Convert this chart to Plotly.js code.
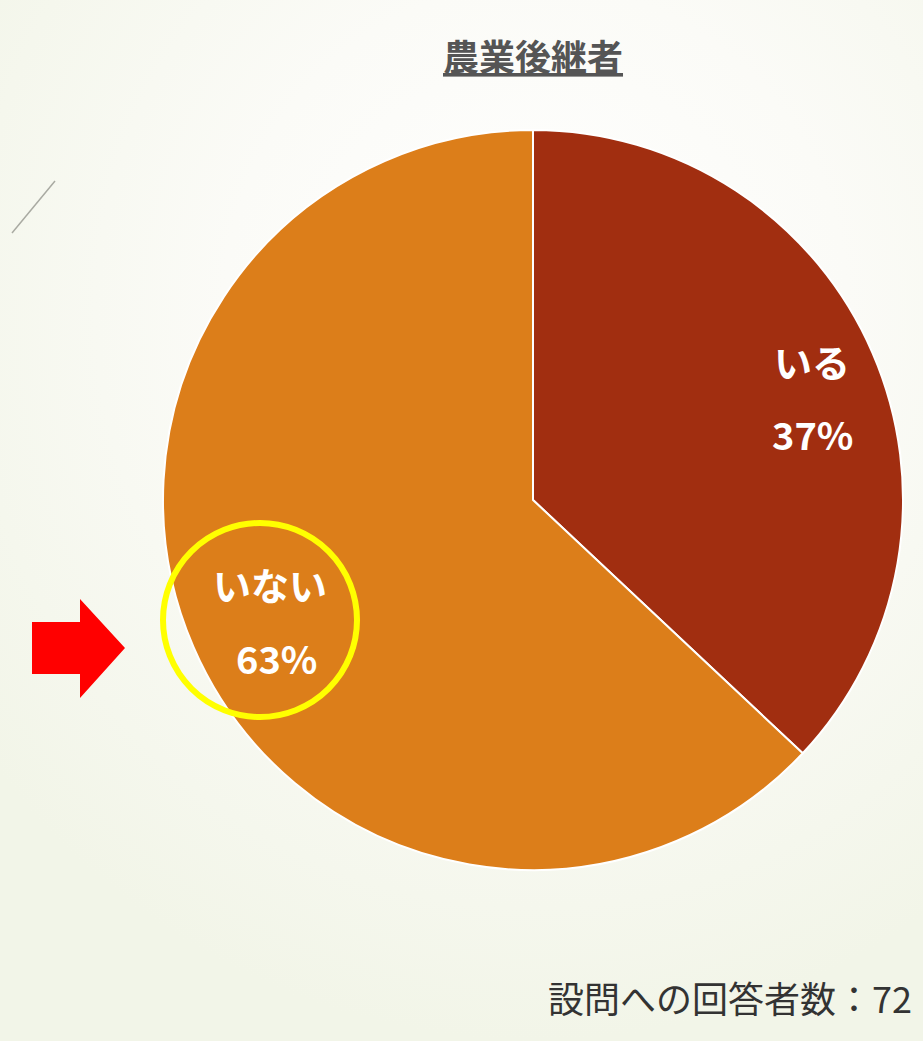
<!DOCTYPE html>
<html>
<head>
<meta charset="utf-8">
<script src="https://cdn.plot.ly/plotly-3.0.1.min.js"></script>
<style>
html,body{margin:0;padding:0;width:923px;height:1041px;overflow:hidden;
background:radial-gradient(ellipse 75% 70% at 58% 30%, #ffffff 0%, #fbfbf7 45%, #f2f5e8 100%);}
#chart{width:923px;height:1041px;}
</style>
</head>
<body>
<div id="chart"></div>
<script>
const title = "農業後継者";
const categories = ["いる", "いない"];
const values = [37, 63];
const sliceColors = ["#A12E10", "#DC7E1A"];
const footnote = "設問への回答者数：72";

const W = 923, H = 1041;
const px = x => x / W;
const py = y => 1 - y / H;

const total = values.reduce((a, b) => a + b, 0);
const pct = values.map(v => Math.round(v / total * 100) + "%");

const trace = {
  type: "pie",
  labels: categories,
  values: values,
  sort: false,
  direction: "clockwise",
  rotation: 0,
  marker: {colors: sliceColors, line: {color: "#ffffff", width: 2}},
  textinfo: "none",
  hoverinfo: "label+percent",
  showlegend: false,
  domain: {x: [px(163), px(903)], y: [py(870), py(130)]}
};

const labelFont = {family: "Noto Sans CJK JP", size: 38, color: "#ffffff", weight: "bold"};
const namePos = [[812, 360], [270, 583]];
const pctPos = [[812, 433], [276, 657]];
const annotations = [];
categories.forEach((c, i) => {
  annotations.push({xref: "paper", yref: "paper", x: px(namePos[i][0]), y: py(namePos[i][1]),
    xanchor: "center", yanchor: "middle", text: c, showarrow: false, font: labelFont});
  annotations.push({xref: "paper", yref: "paper", x: px(pctPos[i][0]), y: py(pctPos[i][1]),
    xanchor: "center", yanchor: "middle", text: pct[i], showarrow: false, font: labelFont});
});
annotations.push({
  xref: "paper", yref: "paper", x: px(533), y: py(55), xanchor: "center", yanchor: "middle",
  text: "<u>" + title + "</u>", showarrow: false,
  font: {family: "Noto Sans CJK JP", size: 36, color: "#555555", weight: "bold"}
});
annotations.push({
  xref: "paper", yref: "paper", x: px(546), y: py(997), xanchor: "left", yanchor: "middle",
  text: footnote, showarrow: false,
  font: {family: "Noto Sans CJK JP", size: 36, color: "#333333"}
});

const arrowPath = "M" + px(32) + "," + py(622) + " L" + px(80) + "," + py(622) +
  " L" + px(80) + "," + py(599) + " L" + px(125) + "," + py(648) +
  " L" + px(80) + "," + py(698) + " L" + px(80) + "," + py(674) +
  " L" + px(32) + "," + py(674) + " Z";

const shapes = [
  {type: "circle", xref: "paper", yref: "paper", x0: px(163), x1: px(357), y0: py(717), y1: py(523),
   line: {color: "#FFFF00", width: 6}},
  {type: "path", xref: "paper", yref: "paper", path: arrowPath, fillcolor: "#FF0000", line: {width: 0}},
  {type: "line", xref: "paper", yref: "paper", x0: px(12), y0: py(233), x1: px(55), y1: py(181),
   line: {color: "#a9aaa2", width: 1.5}}
];

Plotly.newPlot("chart", [trace], {
  width: W, height: H,
  margin: {l: 0, r: 0, t: 0, b: 0},
  paper_bgcolor: "rgba(0,0,0,0)",
  plot_bgcolor: "rgba(0,0,0,0)",
  annotations: annotations,
  shapes: shapes
}, {displayModeBar: false});
</script>
</body>
</html>
